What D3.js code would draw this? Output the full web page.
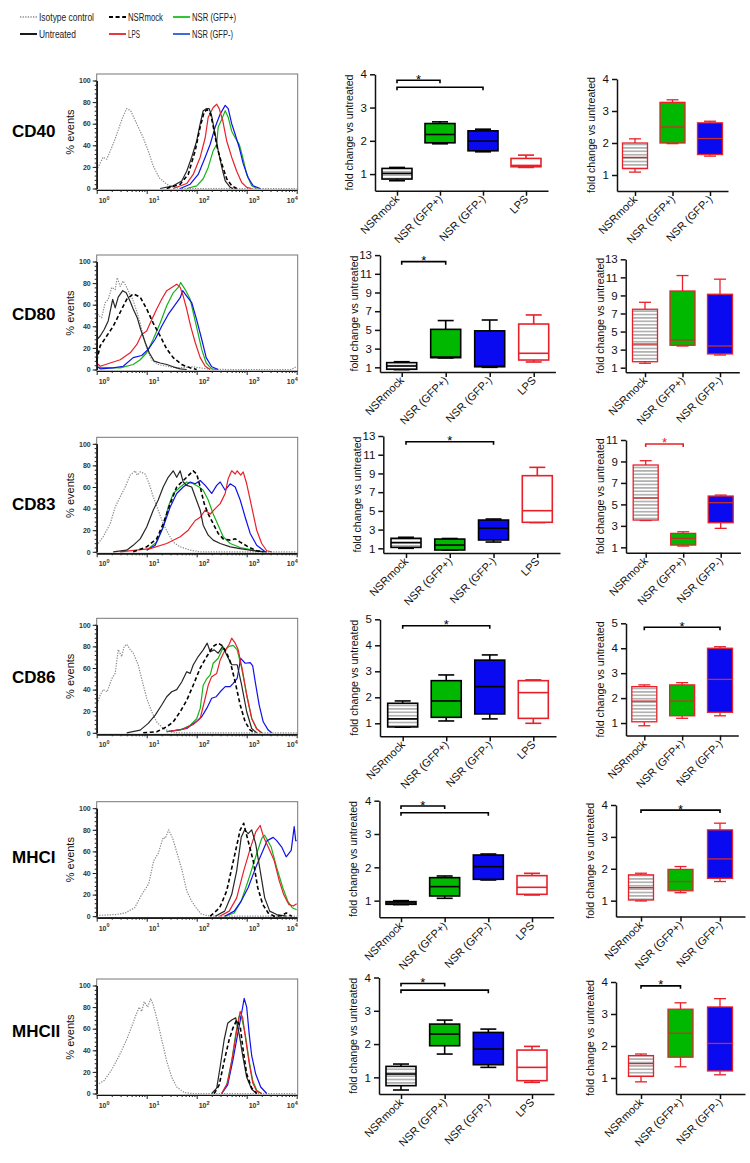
<!DOCTYPE html>
<html><head><meta charset="utf-8">
<script src="https://cdn.jsdelivr.net/npm/d3@7"></script>
<style>body{margin:0;background:#fff}svg{display:block}text{font-family:"Liberation Sans",Arial,sans-serif}</style>
</head><body><svg id="c" width="750" height="1163"></svg>
<script>
// ---------------- DATA ----------------
const markers = ["CD40","CD80","CD83","CD86","MHCI","MHCII"];
const groupsAll = ["NSRmock","NSR (GFP+)","NSR (GFP-)","LPS"];
const groupsSub = ["NSRmock","NSR (GFP+)","NSR (GFP-)"];
const legendRow1 = ["Isotype control","NSRmock","NSR (GFP+)"];
const legendRow2 = ["Untreated","LPS","NSR (GFP-)"];
const histYTicks = [0,20,40,60,80,100];
const histXDecades = [0,1,2,3,4];
const ticks4 = [1,2,3,4];
const ticks5 = [1,2,3,4,5];
const ticks13 = [1,3,5,7,9,11,13];
const ticks11 = [1,3,5,7,9,11];

// box stats: [min, q1, median, q3, max]
const cd40All = [[0.8,0.85,1.02,1.17,1.2],[1.91,1.94,2.19,2.52,2.57],[1.67,1.7,1.99,2.3,2.35],[1.2,1.22,1.26,1.47,1.57]];
const cd40Sub = [[1.09,1.2,1.55,2.0,2.13],[1.98,2.0,2.5,3.27,3.35],[1.59,1.64,2.14,2.63,2.68]];
const cd80All = [[0.75,0.79,1.14,1.5,1.6],[2.0,2.03,2.1,5.06,6.0],[1.0,1.06,1.12,4.9,6.06],[1.57,1.78,2.5,5.63,6.6]];
const cd80Sub = [[1.49,1.66,3.62,7.47,8.24],[3.4,3.48,4.07,9.49,11.2],[2.4,2.52,3.4,9.13,10.8]];
const cd83All = [[1.0,1.1,1.6,2.07,2.18],[0.8,0.82,1.35,1.99,2.05],[1.67,1.89,3.14,4.02,4.13],[3.75,3.78,5.02,8.76,9.65]];
const cd83Sub = [[3.5,3.54,5.6,8.67,9.07],[1.12,1.21,1.84,2.3,2.45],[2.77,3.29,5.16,5.78,5.87]];
const cd86All = [[0.85,0.86,1.17,1.77,1.86],[1.09,1.23,1.86,2.64,2.86],[1.17,1.36,2.41,3.43,3.63],[1.0,1.19,2.18,2.64,2.67]];
const cd86Sub = [[0.89,1.05,1.88,2.46,2.53],[1.19,1.29,1.88,2.53,2.62],[1.29,1.43,2.75,4.0,4.06]];
const mhc1All = [[0.88,0.89,0.93,0.97,1.0],[1.07,1.14,1.42,1.69,1.74],[1.62,1.64,2.02,2.37,2.4],[1.17,1.19,1.4,1.75,1.82]];
const mhc1Sub = [[0.99,1.02,1.41,1.81,1.86],[1.25,1.31,1.6,1.98,2.07],[1.6,1.7,2.31,3.22,3.43]];
const mhc2All = [[0.62,0.75,1.1,1.33,1.4],[1.7,1.95,2.3,2.6,2.72],[1.3,1.38,1.85,2.35,2.45],[0.85,0.9,1.3,1.82,1.93]];
const mhc2Sub = [[0.88,1.05,1.45,1.7,1.75],[1.35,1.65,2.4,3.15,3.35],[1.1,1.22,2.08,3.22,3.48]];

// significance brackets: [fromIndex, toIndex, level]
const cd40AllSig = [[0,1,3.82],[0,2,3.61]];
const cd40SubSig = [];
const cd80AllSig = [[0,1,12.3]];
const cd80SubSig = [];
const cd83AllSig = [[0,2,12.39]];
const cd83SubSig = [[0,1,10.63]];
const cd86AllSig = [[0,2,4.75]];
const cd86SubSig = [[0,2,4.84]];
const mhc1AllSig = [[0,1,3.84],[0,2,3.64]];
const mhc1SubSig = [[0,2,3.84]];
const mhc2AllSig = [[0,1,3.82],[0,2,3.62]];
const mhc2SubSig = [[0,1,3.88]];

// histograms: [log10 fluorescence, % events]
const cd40Iso = [[0.02,19],[0.13,29],[0.2,27],[0.3,38],[0.37,46],[0.43,54],[0.52,66],[0.6,74],[0.68,72],[0.77,63],[0.85,55],[0.93,47],[1.03,35],[1.13,21],[1.25,10],[1.4,4],[1.53,1],[1.67,0],[4,0]];
const cd40Unt = [[1.27,0],[1.53,2.5],[1.7,7],[1.8,16],[1.9,29],[2.0,44],[2.07,60],[2.13,72],[2.2,74],[2.25,74],[2.3,67],[2.37,50],[2.43,35],[2.5,20],[2.57,7],[2.67,1],[2.73,0]];
const cd40Mock = [[1.4,0],[1.67,4],[1.83,13],[1.97,35],[2.07,57],[2.15,71],[2.21,73],[2.28,69],[2.35,53],[2.41,38],[2.5,23],[2.6,9],[2.7,2.5],[2.8,0]];
const cd40Lps = [[1.53,0],[1.8,4.6],[1.93,13],[2.07,29],[2.17,47],[2.23,66],[2.33,75],[2.4,78],[2.45,74],[2.52,63],[2.6,44],[2.7,29],[2.8,16],[2.9,5.6],[3.0,1],[3.1,0]];
const cd40Gm = [[1.67,0],[1.87,4],[2.03,13],[2.17,29],[2.27,41],[2.37,57],[2.47,69],[2.57,77],[2.63,74],[2.7,60],[2.77,50],[2.85,38],[2.93,23],[3.03,10],[3.13,2.5],[3.27,0]];
const cd40Gp = [[1.8,0],[2.0,2.5],[2.13,9],[2.23,19.5],[2.33,35],[2.4,41],[2.43,57],[2.5,64],[2.57,72],[2.63,66],[2.7,53],[2.77,47],[2.85,41],[2.92,29],[3.0,13],[3.1,2.5],[3.2,0]];

const cd80Iso = [[0,56],[0.03,50],[0.1,48],[0.17,62],[0.23,65],[0.3,76],[0.37,74],[0.41,85],[0.47,77],[0.53,82],[0.59,77],[0.65,71],[0.72,65],[0.8,54],[0.87,43],[0.93,31],[1.0,20],[1.1,9],[1.23,4.6],[1.4,3],[1.6,1.5],[1.93,2.5],[2.2,0.6],[2.6,0],[3.9,0],[4,3]];
const cd80Unt = [[0,6],[0.01,28],[0.07,31],[0.15,37],[0.23,45],[0.32,65],[0.37,57],[0.43,67],[0.52,73],[0.59,71],[0.67,63],[0.73,56],[0.81,48],[0.88,37],[0.97,25],[1.05,15.5],[1.15,7.7],[1.27,6],[1.4,4.6],[1.53,2.5],[1.67,0.6],[1.8,0]];
const cd80Mock = [[0,8],[0.07,22],[0.2,31],[0.33,40],[0.47,53],[0.6,65],[0.73,70],[0.87,67],[1.0,56],[1.13,43],[1.27,31],[1.4,19],[1.53,11],[1.7,4.6],[1.87,1.5],[2,0]];
const cd80Lps = [[0,6],[0.07,3],[0.27,6],[0.47,9],[0.67,15.5],[0.8,23],[0.9,32.5],[1.0,35.6],[1.1,46],[1.2,56],[1.3,65],[1.4,73],[1.5,76],[1.6,79],[1.67,76],[1.73,68],[1.8,56],[1.88,40],[1.97,25],[2.07,11],[2.17,3],[2.27,0]];
const cd80Gp = [[0,2],[0.47,1.5],[0.73,4.6],[0.87,9],[1.0,15.5],[1.13,28],[1.27,43],[1.4,59],[1.53,71],[1.63,76],[1.68,80.5],[1.77,74],[1.87,65],[1.93,53],[2.01,37],[2.1,18.6],[2.19,6],[2.3,0.6],[2.4,0]];
const cd80Gm = [[0,3],[0.07,0.6],[0.33,1.5],[0.53,3],[0.73,11],[0.9,13],[1.03,18.6],[1.17,28],[1.3,40],[1.43,51],[1.57,60],[1.67,66.5],[1.72,73],[1.8,68],[1.9,62],[2.0,46],[2.1,28],[2.19,11],[2.3,2.5],[2.43,0]];

const cd83Iso = [[0.03,7.7],[0.13,14],[0.27,26],[0.37,41.5],[0.47,51],[0.57,60],[0.67,71],[0.77,75],[0.81,71],[0.87,74],[0.97,72],[1.05,63],[1.13,51],[1.23,38.5],[1.33,26],[1.43,17],[1.53,9],[1.67,4.6],[1.87,1.5],[2.07,0],[4,0]];
const cd83Unt = [[0.33,0],[0.6,1.5],[0.73,6],[0.87,12],[1.0,23],[1.13,38.5],[1.23,48],[1.33,60],[1.43,69],[1.53,75],[1.6,69],[1.67,75],[1.73,64.6],[1.8,61.5],[1.9,60],[1.97,51],[2.07,38.5],[2.13,24.6],[2.23,15.4],[2.33,10.8],[2.47,7.7],[2.67,4.6],[2.87,3],[3.13,1],[3.4,0]];
const cd83Mock = [[0.73,0],[1.0,4.6],[1.2,12],[1.33,26],[1.47,44.6],[1.6,60],[1.7,64.6],[1.8,69],[1.93,75],[2.0,72],[2.07,60],[2.15,44.6],[2.23,35],[2.33,26],[2.43,17],[2.53,12],[2.67,10.8],[2.77,12],[2.87,9],[3.03,4.6],[3.2,1],[3.33,0]];
const cd83Gp = [[1.0,1.5],[1.2,9],[1.33,23],[1.43,41.5],[1.53,54],[1.67,60],[1.8,64.6],[1.93,63],[2.05,60],[2.13,57],[2.23,48],[2.33,35],[2.43,24.6],[2.53,14],[2.67,7.7],[2.87,4],[3.13,1.5],[3.33,0]];
const cd83Gm = [[1.0,1.5],[1.17,6],[1.33,23],[1.47,41.5],[1.6,54],[1.73,60],[1.87,64.6],[1.97,63],[2.07,66],[2.17,61.5],[2.3,54],[2.4,61.5],[2.47,64.6],[2.57,57],[2.67,63],[2.77,60],[2.87,48],[2.97,32],[3.07,17],[3.2,6],[3.37,0]];
const cd83Lps = [[0.47,0],[1.07,3],[1.4,7.7],[1.67,14],[1.83,20],[1.97,29],[2.07,32],[2.17,38.5],[2.27,35],[2.37,40],[2.47,44.6],[2.57,54],[2.63,67.7],[2.7,75],[2.77,72],[2.81,75],[2.88,71],[2.93,74],[3.0,63],[3.1,41.5],[3.2,20],[3.3,7.7],[3.4,1],[3.5,0]];

const cd86Iso = [[0.01,27],[0.07,35],[0.13,40],[0.21,38],[0.3,50],[0.37,55],[0.43,77],[0.5,70.6],[0.55,80],[0.6,82],[0.67,77],[0.73,74],[0.83,63],[0.9,50],[1.0,32],[1.1,19.5],[1.2,10],[1.33,4],[1.47,1],[1.6,0],[4,0]];
const cd86Unt = [[0.6,0],[0.87,2.5],[1.03,8.7],[1.17,16.4],[1.3,25.7],[1.4,33.4],[1.5,38],[1.6,40],[1.7,47],[1.8,56.6],[1.87,55],[1.93,62.8],[2.03,70.6],[2.13,76.8],[2.21,83],[2.27,75],[2.35,76.8],[2.43,73.7],[2.52,80],[2.6,72],[2.7,63],[2.81,63],[2.9,44],[3.0,19.5],[3.1,4],[3.2,0]];
const cd86Mock = [[0.93,0],[1.2,1],[1.4,5.6],[1.53,10],[1.67,19.5],[1.8,30],[1.93,44],[2.07,60],[2.2,70.6],[2.33,80],[2.43,83],[2.5,81],[2.59,75],[2.67,66],[2.77,47],[2.87,25.7],[2.97,10],[3.07,2.5],[3.17,0]];
const cd86Gp = [[1.4,1],[1.67,2.5],[1.87,7],[2.0,13],[2.07,22.6],[2.13,44],[2.2,50],[2.27,53.6],[2.33,64.4],[2.43,69],[2.52,78],[2.57,76.8],[2.65,80],[2.73,81],[2.81,76.8],[2.9,59.8],[3.0,35],[3.1,13.3],[3.2,4],[3.3,0]];
const cd86Lps = [[1.4,1],[1.73,3.4],[1.93,7.7],[2.07,13.3],[2.17,32],[2.23,44],[2.3,52],[2.4,55],[2.47,67.5],[2.55,75],[2.65,82],[2.7,87.6],[2.77,83],[2.83,76.8],[2.92,56.6],[3.0,35],[3.1,13.3],[3.2,3.4],[3.3,0]];
const cd86Gm = [[1.4,1],[1.8,4],[2.0,10.8],[2.1,14.9],[2.2,22.6],[2.3,32],[2.39,33.4],[2.47,38],[2.57,42.7],[2.67,42.7],[2.73,45.8],[2.81,50.5],[2.88,69],[2.97,64.4],[3.07,65],[3.12,62],[3.17,47.4],[3.25,25.7],[3.33,10.2],[3.43,2.5],[3.5,0]];

const mhc1Iso = [[0,0.5],[0.14,1],[0.38,1.5],[0.57,3],[0.76,7.8],[0.9,20],[1.04,30],[1.14,51.5],[1.23,58],[1.33,73],[1.37,72],[1.44,80],[1.52,72],[1.61,58],[1.71,42],[1.8,23.4],[1.9,14],[1.99,7.8],[2.09,2],[2.27,0],[4,0]];
const mhc1Unt = [[2.37,0],[2.56,4.7],[2.7,20],[2.8,42],[2.89,73],[2.96,80],[3.03,76.5],[3.1,80],[3.18,67],[3.27,42],[3.36,17],[3.46,4.7],[3.6,1.5],[3.79,0]];
const mhc1Mock = [[2.27,0],[2.46,7.8],[2.6,23.4],[2.75,54.7],[2.87,80],[2.94,86],[3.01,73],[3.13,51.5],[3.22,26.6],[3.32,11],[3.43,3],[3.55,0],[3.7,0.5],[3.79,3],[3.9,0]];
const mhc1Lps = [[2.46,0],[2.65,4.7],[2.8,17],[2.94,42],[3.08,64],[3.18,78],[3.27,84],[3.34,73],[3.46,61],[3.55,51.5],[3.65,33],[3.74,20],[3.84,11],[3.93,9.4],[4,11.6]];
const mhc1Gp = [[2.56,0],[2.75,3],[2.89,14],[3.03,33],[3.18,55],[3.3,72],[3.36,75],[3.49,64],[3.6,45],[3.72,26.6],[3.82,14],[3.91,7.8],[4,6]];
const mhc1Gm = [[2.56,0],[2.75,4.7],[2.89,14],[3.03,26.6],[3.18,45],[3.3,58],[3.41,70],[3.53,73],[3.6,70],[3.7,64],[3.79,55],[3.89,61],[3.95,83],[3.98,70],[4,70]];

const mhc2Iso = [[0,8],[0.15,12],[0.3,22],[0.45,35],[0.6,50],[0.7,62],[0.78,72],[0.85,80],[0.9,76],[0.95,85],[1.02,80],[1.08,88],[1.13,82],[1.2,70],[1.3,50],[1.4,30],[1.5,15],[1.6,6],[1.75,1],[1.9,0],[4,0]];
const mhc2Unt = [[2.3,0],[2.4,5],[2.47,25],[2.55,50],[2.62,65],[2.7,68],[2.78,70],[2.85,55],[2.92,35],[3.0,15],[3.1,4],[3.2,0]];
const mhc2Mock = [[2.35,0],[2.45,8],[2.55,30],[2.65,50],[2.72,60],[2.8,68],[2.87,62],[2.93,40],[3.0,18],[3.1,5],[3.2,0]];
const mhc2Gp = [[2.5,0],[2.6,8],[2.7,30],[2.78,55],[2.85,72],[2.9,70],[2.97,55],[3.05,30],[3.12,12],[3.2,3],[3.3,0]];
const mhc2Lps = [[2.5,0],[2.62,10],[2.72,35],[2.8,58],[2.87,76],[2.92,70],[2.98,50],[3.05,28],[3.12,10],[3.2,2],[3.3,0]];
const mhc2Gm = [[2.5,0],[2.62,8],[2.72,30],[2.82,55],[2.9,75],[2.95,88],[3.0,80],[3.05,55],[3.1,35],[3.18,18],[3.28,6],[3.4,0]];

// ---------------- LAYOUT / STYLE ----------------
const C = {green:"#16b316", blue:"#1010ee", red:"#e8202a", boxGreen:"#00b800", boxBlue:"#0a0af0"};
const lineStyle = {
  iso:{stroke:"#8a8a8a", dash:"1.3,1.3", w:1.2},
  unt:{stroke:"#262626", dash:null, w:1.2},
  mock:{stroke:"#000", dash:"4,2.6", w:1.6},
  gp:{stroke:C.green, dash:null, w:1.2},
  gm:{stroke:C.blue, dash:null, w:1.2},
  lps:{stroke:C.red, dash:null, w:1.2}
};
const rows = [
  {hist:{iso:cd40Iso,gp:cd40Gp,gm:cd40Gm,lps:cd40Lps,unt:cd40Unt,mock:cd40Mock}, all:cd40All, sub:cd40Sub, allSig:cd40AllSig, subSig:cd40SubSig,
   top:74, lab:137, mid:{x0:375,first:397,last:526,yb:190.7,yt:74.3,max:4,ticks:ticks4}, rt:{x0:617,first:635,last:710,yb:191,yt:79,max:4,ticks:ticks4}, subSigColor:"#000"},
  {hist:{iso:cd80Iso,gp:cd80Gp,gm:cd80Gm,lps:cd80Lps,unt:cd80Unt,mock:cd80Mock}, all:cd80All, sub:cd80Sub, allSig:cd80AllSig, subSig:cd80SubSig,
   top:255, lab:320, mid:{x0:380,first:401.7,last:533.7,yb:372,yt:255.1,max:13,ticks:ticks13}, rt:{x0:625.7,first:645,last:720,yb:372.2,yt:259.3,max:13,ticks:ticks13}, subSigColor:"#000"},
  {hist:{iso:cd83Iso,gp:cd83Gp,gm:cd83Gm,lps:cd83Lps,unt:cd83Unt,mock:cd83Mock}, all:cd83All, sub:cd83Sub, allSig:cd83AllSig, subSig:cd83SubSig,
   top:437.3, lab:510, mid:{x0:383.3,first:406,last:537.3,yb:553,yt:436,max:13,ticks:ticks13}, rt:{x0:626,first:645.7,last:720.7,yb:552.7,yt:440,max:11,ticks:ticks11}, subSigColor:C.red},
  {hist:{iso:cd86Iso,gp:cd86Gp,gm:cd86Gm,lps:cd86Lps,unt:cd86Unt,mock:cd86Mock}, all:cd86All, sub:cd86Sub, allSig:cd86AllSig, subSig:cd86SubSig,
   top:618.3, lab:683, mid:{x0:380,first:402.7,last:533.3,yb:736.3,yt:619.3,max:5,ticks:ticks5}, rt:{x0:626,first:644.3,last:720,yb:735.5,yt:623.3,max:5,ticks:ticks5}, subSigColor:"#000"},
  {hist:{iso:mhc1Iso,gp:mhc1Gp,gm:mhc1Gm,lps:mhc1Lps,unt:mhc1Unt,mock:mhc1Mock}, all:mhc1All, sub:mhc1Sub, allSig:mhc1AllSig, subSig:mhc1SubSig,
   top:801.7, lab:863, mid:{x0:379.4,first:401,last:532,yb:917.3,yt:800.7,max:4,ticks:ticks4}, rt:{x0:616,first:641,last:720,yb:916.6,yt:805,max:4,ticks:ticks4}, subSigColor:"#000"},
  {hist:{iso:mhc2Iso,gp:mhc2Gp,gm:mhc2Gm,lps:mhc2Lps,unt:mhc2Unt,mock:mhc2Mock}, all:mhc2All, sub:mhc2Sub, allSig:mhc2AllSig, subSig:mhc2SubSig,
   top:979, lab:1037, mid:{x0:379,first:401,last:532,yb:1094,yt:977.5,max:4,ticks:ticks4}, rt:{x0:616,first:641,last:720,yb:1094,yt:982,max:4,ticks:ticks4}, subSigColor:"#000"}
];

// ---------------- DRAW ----------------
const svg = d3.select("#c");
const defs = svg.append("defs");
const pat = defs.append("pattern").attr("id","hatch").attr("patternUnits","userSpaceOnUse").attr("width",8).attr("height",3.4);
pat.append("rect").attr("width",8).attr("height",3.4).attr("fill","#fff");
pat.append("line").attr("x1",0).attr("x2",8).attr("y1",1.7).attr("y2",1.7).attr("stroke","#7a7a7a").attr("stroke-width",1);

// legend
function legendLine(g, x, y, st){
  g.append("line").attr("x1",x).attr("x2",x+17).attr("y1",y).attr("y2",y)
   .attr("stroke",st.stroke).attr("stroke-width",st.w+0.4).attr("stroke-dasharray",st.dash);
}
const lg = svg.append("g");
const legItems = [
  [legendRow1[0], lineStyle.iso, 20, 17, 55], [legendRow1[1], lineStyle.mock, 109, 17, 35], [legendRow1[2], {stroke:"#33c633",w:1.6}, 173, 17, 44],
  [legendRow2[0], {stroke:"#000",w:1.4}, 20, 34, 37], [legendRow2[1], {stroke:C.red,w:1.4}, 109, 34, 12], [legendRow2[2], {stroke:"#3a6ee0",w:1.6}, 173, 34, 41]
];
legItems.forEach(([t,st,x,y,len])=>{
  legendLine(lg,x,y,st);
  lg.append("text").attr("x",x+19).attr("y",y+3.6).attr("font-size",10).attr("fill","#222")
    .attr("textLength",len).attr("lengthAdjust","spacingAndGlyphs").text(t);
});

function drawHist(row){
  const top = row.top, L = 96.7, R = 297.7;
  const x = d3.scaleLog().domain([1,1e4]).range([L, L+200]);
  const y = d3.scaleLinear().domain([0,100]).range([top+114.5, top+6.5]);
  const g = svg.append("g");
  g.append("rect").attr("x",L).attr("y",top).attr("width",R-L).attr("height",116)
    .attr("fill","none").attr("stroke","#777").attr("stroke-width",1);
  const line = d3.line().x(d=>x(Math.pow(10,d[0]))).y(d=>y(d[1]));
  ["iso","gp","gm","lps","unt","mock"].forEach(k=>{
    const st = lineStyle[k];
    g.append("path").datum(row.hist[k]).attr("d",line).attr("fill","none")
      .attr("stroke",st.stroke).attr("stroke-width",st.w).attr("stroke-dasharray",st.dash)
      .attr("stroke-linejoin","round");
  });
  const ya = g.append("g").attr("transform",`translate(${L},0)`)
    .call(d3.axisLeft(y).tickValues(histYTicks).tickSize(4).tickSizeOuter(0).tickPadding(2).tickFormat(d3.format("d")));
  g.append("g").attr("transform",`translate(${L},0)`)
    .call(d3.axisLeft(y).tickValues(d3.range(0,101,4)).tickSize(2).tickSizeOuter(0).tickFormat(""));
  const xb = top+116;
  g.append("g").attr("transform",`translate(0,${xb})`)
    .call(d3.axisBottom(x).tickValues(histXDecades.map(d=>Math.pow(10,d))).tickSize(4).tickSizeOuter(0).tickFormat(""));
  const minor = [];
  for(let d=0; d<4; d++) for(let m=2; m<10; m++) minor.push(m*Math.pow(10,d));
  g.append("g").attr("transform",`translate(0,${xb})`)
    .call(d3.axisBottom(x).tickValues(minor).tickSize(2).tickSizeOuter(0).tickFormat(""));
  g.selectAll(".domain").attr("stroke","#111").attr("stroke-width",1.2);
  g.selectAll(".tick line").attr("stroke","#222").attr("stroke-width",1);
  ya.selectAll("text").attr("font-size",7).attr("font-weight","bold").attr("fill","#333");
  histXDecades.forEach((d,i)=>{
    const px = x(Math.pow(10,d));
    const t = g.append("text").attr("y",xb+13).attr("font-size",7).attr("font-weight","bold").attr("fill","#333");
    if(i<4){ t.attr("x",px+2).attr("text-anchor","start"); } else { t.attr("x",px+1).attr("text-anchor","end"); }
    t.append("tspan").text("10");
    t.append("tspan").attr("dy",-3.5).attr("font-size",5.5).text(String(d));
  });
  g.append("text").attr("transform",`translate(74,${top+58}) rotate(-90)`).attr("text-anchor","middle")
    .attr("font-size",11).attr("fill","#111").text("% events");
}

function drawBox(L, cats, stats, sigs, isSub, sigColor){
  const n = cats.length;
  const step = (L.last-L.first)/(n-1);
  const pad = (L.first-L.x0)/step;
  const end = L.last + (L.first-L.x0);
  const x = d3.scalePoint().domain(cats).range([L.x0,end]).padding(pad);
  const y = d3.scaleLinear().domain([0.5,L.max]).range([L.yb,L.yt]);
  const g = svg.append("g");
  const hw = isSub?12.5:15, cw = isSub?6:8;
  const fills = ["url(#hatch)", C.boxGreen, C.boxBlue, "#fff"];
  cats.forEach((c,i)=>{
    const s = stats[i];
    const cx = x(c);
    const stroke = (isSub || i===3) ? C.red : "#000";
    const medStroke = isSub ? "#c8302c" : stroke;
    const sw = isSub?1.3:1.6;
    const bg = g.append("g");
    [[s[0],s[1]],[s[3],s[4]]].forEach(([a,b])=>{
      bg.append("line").attr("x1",cx).attr("x2",cx).attr("y1",y(a)).attr("y2",y(b)).attr("stroke",stroke).attr("stroke-width",sw);
    });
    [s[0],s[4]].forEach(v=>{
      bg.append("line").attr("x1",cx-cw).attr("x2",cx+cw).attr("y1",y(v)).attr("y2",y(v)).attr("stroke",stroke).attr("stroke-width",sw);
    });
    bg.append("rect").attr("x",cx-hw).attr("width",2*hw).attr("y",y(s[3])).attr("height",Math.max(0.5,y(s[1])-y(s[3])))
      .attr("fill",fills[i]).attr("stroke",stroke).attr("stroke-width",sw);
    bg.append("line").attr("x1",cx-hw).attr("x2",cx+hw).attr("y1",y(s[2])).attr("y2",y(s[2])).attr("stroke",medStroke).attr("stroke-width",sw);
  });
  const ya = g.append("g").attr("transform",`translate(${L.x0},0)`)
    .call(d3.axisLeft(y).tickValues(L.ticks).tickSize(5).tickSizeOuter(0).tickPadding(3).tickFormat(d3.format("d")));
  g.append("g").attr("transform",`translate(0,${L.yb})`)
    .call(d3.axisBottom(x).tickSize(5).tickSizeOuter(0).tickFormat(""));
  g.selectAll(".domain").attr("stroke","#111").attr("stroke-width",1.5);
  g.selectAll(".tick line").attr("stroke","#111").attr("stroke-width",1.5);
  ya.selectAll("text").attr("font-size",11.5).attr("fill","#111");
  cats.forEach(c=>{
    g.append("text").attr("transform",`translate(${x(c)+3},${L.yb+9}) rotate(-45)`)
      .attr("text-anchor","end").attr("font-size",11).attr("fill","#111").text(c);
  });
  g.append("text").attr("transform",`translate(${L.x0-22},${(L.yb+L.yt)/2}) rotate(-90)`)
    .attr("text-anchor","middle").attr("font-size",10.6).attr("fill","#111").text("fold change vs untreated");
  sigs.forEach(([a,b,v],k)=>{
    const x1 = x(cats[a]), x2 = x(cats[b]), yy = y(v);
    g.append("path").attr("d",`M${x1},${yy+3}V${yy}H${x2}V${yy+3}`).attr("fill","none")
      .attr("stroke",sigColor).attr("stroke-width",1.6);
    if(k===0){
      g.append("text").attr("x",(x1+x2)/2).attr("y",yy+3.5).attr("text-anchor","middle")
        .attr("font-size",13).attr("fill",sigColor).text("*");
    }
  });
}

rows.forEach((row,i)=>{
  svg.append("text").attr("x",12).attr("y",row.lab).attr("font-size",17).attr("font-weight","bold")
    .attr("fill","#000").text(markers[i]);
  drawHist(row);
  drawBox(row.mid, groupsAll, row.all, row.allSig, false, "#000");
  drawBox(row.rt, groupsSub, row.sub, row.subSig, true, row.subSigColor);
});
</script></body></html>
